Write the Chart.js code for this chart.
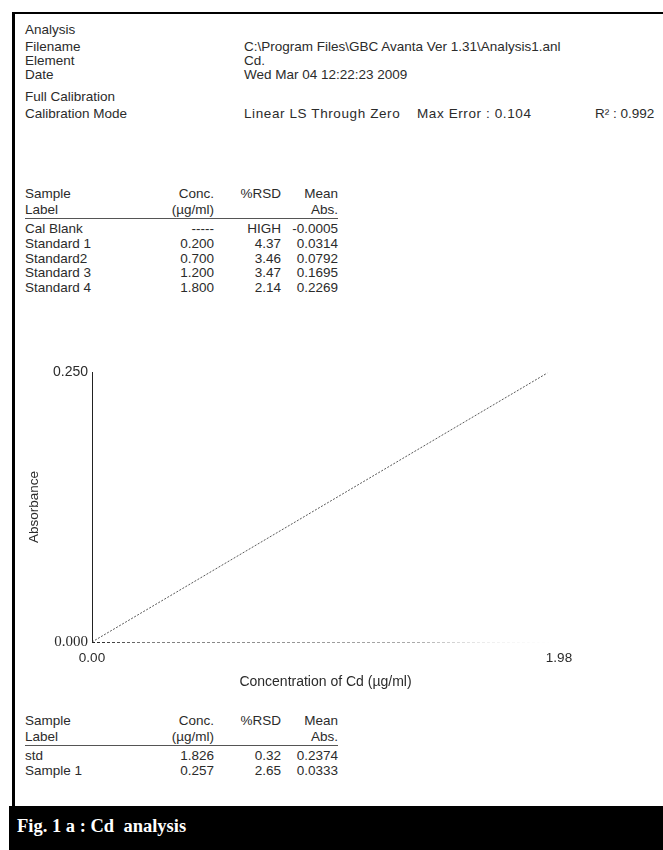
<!DOCTYPE html>
<html>
<head>
<meta charset="utf-8">
<script src="https://cdn.jsdelivr.net/npm/chart.js@4/dist/chart.umd.min.js"></script>
<style>
  html, body { margin: 0; padding: 0; background: #fff; }
  #page { position: relative; width: 663px; height: 850px; overflow: hidden; background: #fff;
          font-family: "Liberation Sans", Arial, sans-serif; color: #2b2b2b; }
  .t { position: absolute; font-size: 13.5px; line-height: 14px; white-space: pre; }
  .r { text-align: right; }
  .rule { position: absolute; background: #000; }
  .uline { position: absolute; height: 1px; background: #555; }
  #cap { position: absolute; left: 9px; top: 806px; width: 654px; height: 44px; background: #000; }
  #cap span { position: absolute; left: 8px; top: 10px; color: #fff; font: bold 18.5px "Liberation Serif", "Times New Roman", serif; white-space: pre; }
  #chartBox { position: absolute; left: 0; top: 350px; width: 663px; height: 350px; }
</style>
</head>
<body>
<div id="page">
  <div class="rule" style="left:12px;top:12px;width:651px;height:2px"></div>
  <div class="rule" style="left:12px;top:12px;width:3px;height:794px"></div>
  <div id="header"></div>
  <div id="tables"></div>
  <div id="chartBox"><canvas id="c" width="663" height="350"></canvas></div>
  <div id="cap"><span>Fig. 1 a : Cd  analysis</span></div>
</div>
<script>
// Run details printed above the calibration plot
const headerLabels = ["Filename", "Element", "Date"];
const headerValues = ["C:\\Program Files\\GBC Avanta Ver 1.31\\Analysis1.anl", "Cd.", "Wed Mar 04 12:22:23 2009"];
const calibMode = "Linear LS Through Zero";
const calibErr = "Max Error : 0.104";
const calibR2 = "R\u00B2 : 0.992";

// Calibration standards
const stdLabels = ["Cal Blank", "Standard 1", "Standard2", "Standard 3", "Standard 4"];
const stdConc   = ["-----", "0.200", "0.700", "1.200", "1.800"];
const stdRsd    = ["HIGH", "4.37", "3.46", "3.47", "2.14"];
const stdAbs    = ["-0.0005", "0.0314", "0.0792", "0.1695", "0.2269"];

// Measured samples
const smpLabels = ["std", "Sample 1"];
const smpConc   = ["1.826", "0.257"];
const smpRsd    = ["0.32", "2.65"];
const smpAbs    = ["0.2374", "0.0333"];

// Calibration line (concentration, absorbance) and axis ticks
const lineConc = [0, 1.93];
const lineAbs  = [0, 0.249];
const xTickValues = [0, 1.98];
const xTickLabels = ["0.00", "1.98"];
const yTickValues = [0, 0.25];
const yTickLabels = ["0.000", "0.250"];

function put(parent, text, x, cy, opts = {}) {
  const d = document.createElement("div");
  d.className = "t" + (opts.right ? " r" : "");
  d.textContent = text;
  d.style.top = (cy - 7) + "px";
  if (opts.right) { d.style.left = (x - 200) + "px"; d.style.width = "200px"; }
  else d.style.left = x + "px";
  if (opts.ls) d.style.letterSpacing = opts.ls;
  parent.appendChild(d);
  return d;
}

const hdr = document.getElementById("header");
put(hdr, "Analysis", 25, 30);
const hdrY = [47, 61, 75];
headerLabels.forEach((s, i) => { put(hdr, s, 25, hdrY[i]); put(hdr, headerValues[i], 244, hdrY[i]); });
put(hdr, "Full Calibration", 25, 97);
put(hdr, "Calibration Mode", 25, 114);
put(hdr, calibMode, 244, 114, { ls: "0.6px" });
put(hdr, calibErr, 417, 114, { ls: "0.6px" });
put(hdr, calibR2, 595, 114);

// Right edges of the numeric columns
const cols = { label: 25, conc: 214, rsd: 281, abs: 338 };
function table(parent, top, labels, conc, rsd, abs, rowGap) {
  put(parent, "Sample", cols.label, top);
  put(parent, "Conc.", cols.conc, top, { right: true });
  put(parent, "%RSD", cols.rsd, top, { right: true });
  put(parent, "Mean", cols.abs, top, { right: true });
  put(parent, "Label", cols.label, top + 16);
  put(parent, "(\u00B5g/ml)", cols.conc, top + 16, { right: true });
  put(parent, "Abs.", cols.abs, top + 16, { right: true });
  const u = document.createElement("div");
  u.className = "uline";
  u.style.left = cols.label + "px"; u.style.width = (cols.abs - cols.label) + "px";
  u.style.top = (top + 24) + "px";
  parent.appendChild(u);
  labels.forEach((s, i) => {
    const y = top + 35 + i * rowGap;
    put(parent, s, cols.label, y);
    put(parent, conc[i], cols.conc, y, { right: true });
    put(parent, rsd[i], cols.rsd, y, { right: true });
    put(parent, abs[i], cols.abs, y, { right: true });
  });
}
const tb = document.getElementById("tables");
table(tb, 194, stdLabels, stdConc, stdRsd, stdAbs, 14.8);
table(tb, 721, smpLabels, smpConc, smpRsd, smpAbs, 14.5);

const ink = "#2b2b2b";

// Bottom axis line: dark at the origin, fading dotted grey toward the right
const fadedXAxis = {
  id: "fadedXAxis",
  afterDatasetsDraw(chart) {
    const { ctx } = chart;
    const xs = chart.scales.x, ys = chart.scales.y;
    const y0 = Math.round(ys.getPixelForValue(0)) + 0.5;
    const x0 = xs.getPixelForValue(0), x1 = xs.getPixelForValue(xs.max);
    const g = ctx.createLinearGradient(x0, 0, x1, 0);
    g.addColorStop(0, "rgba(30,30,30,1)");
    g.addColorStop(0.12, "rgba(110,110,110,0.9)");
    g.addColorStop(0.7, "rgba(150,150,150,0.8)");
    g.addColorStop(0.85, "rgba(200,200,200,0.3)");
    g.addColorStop(1, "rgba(230,230,230,0)");
    ctx.save();
    ctx.strokeStyle = g;
    ctx.lineWidth = 1;
    ctx.setLineDash([3, 2]);
    ctx.beginPath();
    ctx.moveTo(x0, y0);
    ctx.lineTo(x1, y0);
    ctx.stroke();
    ctx.restore();
  }
};

new Chart(document.getElementById("c"), {
  type: "scatter",
  data: {
    datasets: [{
      data: lineConc.map((x, i) => ({ x, y: lineAbs[i] })),
      showLine: true,
      borderColor: "rgba(60,60,60,0.85)",
      borderWidth: 1,
      borderDash: [2, 1.5],
      pointRadius: 0,
      fill: false
    }]
  },
  plugins: [fadedXAxis],
  options: {
    responsive: false,
    devicePixelRatio: 1,
    animation: false,
    layout: { padding: { top: 22, right: 104, left: 0, bottom: 0 } },
    plugins: { legend: { display: false }, tooltip: { enabled: false } },
    scales: {
      x: {
        type: "linear", min: 0, max: 1.98,
        afterBuildTicks: s => { s.ticks = xTickValues.map(v => ({ value: v })); },
        afterFit: s => { s.height = 58; },
        ticks: { callback: (v, i) => xTickLabels[i], autoSkip: false, maxRotation: 0, padding: 8,
                 color: ink, font: { family: "Liberation Sans", size: 13.5 } },
        grid: { display: false, drawTicks: false },
        border: { display: false },
        title: { display: true, text: "Concentration of Cd (\u00B5g/ml)", color: ink,
                 font: { family: "Liberation Sans", size: 14 }, padding: { top: 0, bottom: 9 } }
      },
      y: {
        type: "linear", min: 0, max: 0.25,
        afterBuildTicks: s => { s.ticks = yTickValues.map(v => ({ value: v })); },
        afterFit: s => { s.width = 92; },
        ticks: { callback: (v, i) => yTickLabels[i], autoSkip: false, padding: 4, color: ink,
                 font: ctx => ctx.tick && ctx.tick.value === 0
                   ? { family: "Liberation Serif", size: 15 }
                   : { family: "Liberation Sans", size: 14 } },
        grid: { display: false, drawTicks: false },
        border: { display: true, color: "#222", width: 1 },
        title: { display: true, text: "Absorbance", color: ink,
                 font: { family: "Liberation Sans", size: 13.5 }, padding: { top: 26, bottom: 0 } }
      }
    }
  }
});
</script>
</body>
</html>
